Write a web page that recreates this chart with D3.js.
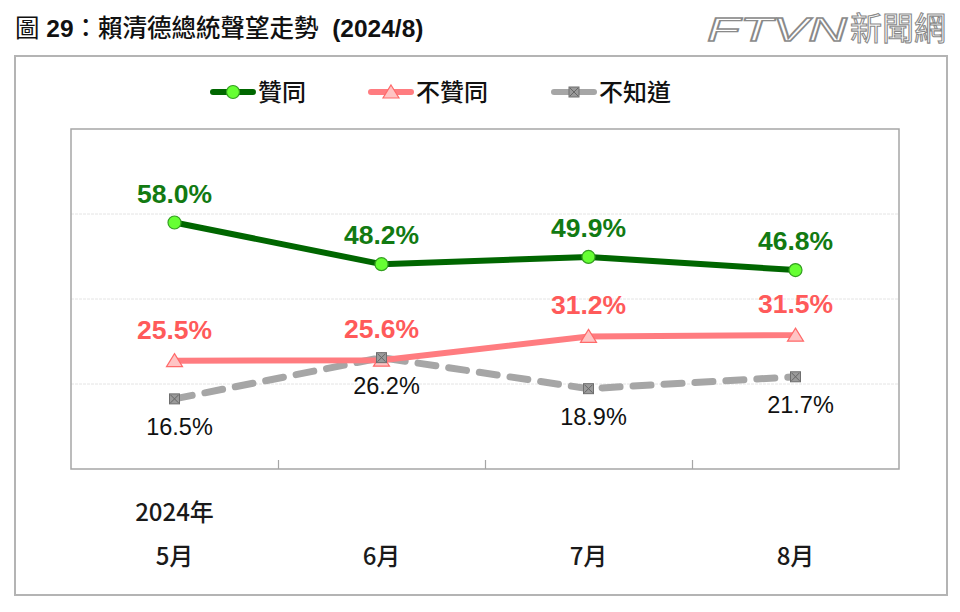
<!DOCTYPE html>
<html><head><meta charset="utf-8">
<script src="https://cdn.jsdelivr.net/npm/d3@7"></script>
<style>body{margin:0;background:#fff}svg{display:block}</style>
</head><body>
<svg id="c" width="960" height="612"></svg>
<script>
const months = ["5月","6月","7月","8月"];
const approve = [58.0, 48.2, 49.9, 46.8];
const disapprove = [25.5, 25.6, 31.2, 31.5];
const unknown = [16.5, 26.2, 18.9, 21.7];
const seriesNames = ["贊同","不贊同","不知道"];
const yearLabel = "2024年";
const gridValues = [20, 40, 60];
const titleParts = [["圖 ", 400], ["29", 700], ["：賴清德總統聲望走勢 ", 500], [" (2024/8)", 700]];

const svg = d3.select("#c");
const L = 71, R = 899, T = 129, B = 469;
const cjk = "'Liberation Sans', Arial, 'Noto Sans CJK TC', sans-serif";

// outer frame
svg.append("rect").attr("x",15).attr("y",56).attr("width",932).attr("height",539)
  .attr("fill","none").attr("stroke","#b4b4b4").attr("stroke-width",2);

// title
const tt = svg.append("text").attr("x",15).attr("y",37).attr("font-size",24.5)
  .attr("font-family",cjk).attr("fill","#111");
titleParts.forEach(p => tt.append("tspan").attr("font-weight",p[1]).attr("xml:space","preserve").text(p[0]));

// logo
const lg = svg.append("g");
lg.append("text").attr("x",707).attr("y",41).attr("font-size",34).attr("font-style","italic")
  .attr("font-family","'Liberation Sans', Arial, sans-serif").attr("font-weight",400)
  .attr("fill","#fff").attr("stroke","#8a8a8a").attr("stroke-width",1.3).attr("textLength",140)
  .attr("lengthAdjust","spacingAndGlyphs").text("FTVN");
lg.append("text").attr("x",850).attr("y",40).attr("font-size",32)
  .attr("font-family","'Noto Sans CJK TC', sans-serif").attr("font-weight",400)
  .attr("fill","#fff").attr("stroke","#8a8a8a").attr("stroke-width",1.1).text("新聞網");

const x = d3.scaleBand().domain(months).range([L, R]);
const y = d3.scaleLinear().domain([0, 80]).range([B, T]);
const cx = m => x(m) + x.bandwidth()/2;

// gridlines
svg.append("g").selectAll("line").data(gridValues).join("line")
  .attr("x1",L).attr("x2",R).attr("y1",d=>y(d)).attr("y2",d=>y(d))
  .attr("stroke","#e4e4e4").attr("stroke-width",1).attr("stroke-dasharray","3,1");

// plot frame
svg.append("rect").attr("x",L).attr("y",T).attr("width",R-L).attr("height",B-T)
  .attr("fill","none").attr("stroke","#a6a6a6").attr("stroke-width",1.5);

// bottom ticks via axis
const ax = svg.append("g").attr("transform",`translate(0,${B})`)
  .call(d3.axisTop(d3.scaleLinear().domain([0,4]).range([L,R])).tickValues([1,2,3]).tickSize(9).tickFormat(""));
ax.select(".domain").remove();
ax.selectAll("line").attr("stroke","#a6a6a6").attr("stroke-width",1.2);

// x labels
svg.append("g").selectAll("text").data(months).join("text")
  .attr("x",d=>cx(d)).attr("y",565).attr("text-anchor","middle")
  .attr("font-size",24).attr("font-weight",500).attr("font-family","'Noto Sans CJK TC', sans-serif")
  .attr("fill","#1a1a1a").text(d=>d);
svg.append("text").attr("x",cx(months[0])).attr("y",521).attr("text-anchor","middle")
  .attr("font-size",24).attr("font-weight",500).attr("font-family","'Noto Sans CJK TC', sans-serif")
  .attr("fill","#1a1a1a").text(yearLabel);

const line = d3.line().x((d,i)=>cx(months[i])).y(d=>y(d));

svg.append("path").datum(unknown).attr("d",line).attr("fill","none")
  .attr("stroke","#a6a6a6").attr("stroke-width",7).attr("stroke-dasharray","18,13")
  .attr("stroke-linecap","round");
svg.append("path").datum(disapprove).attr("d",line).attr("fill","none")
  .attr("stroke","#ff7c80").attr("stroke-width",6).attr("stroke-linejoin","round");
svg.append("path").datum(approve).attr("d",line).attr("fill","none")
  .attr("stroke","#006600").attr("stroke-width",6).attr("stroke-linejoin","round");

function tri(g){ g.append("path").attr("d","M0,-7 L8,6 L-8,6 Z").attr("fill","#ffc4c4").attr("stroke","#ff6a6a").attr("stroke-width",1.2); }
function sq(g){
  g.append("rect").attr("x",-5).attr("y",-5).attr("width",10).attr("height",10).attr("fill","#9a9a9a").attr("stroke","#6e6e6e").attr("stroke-width",1);
  g.append("path").attr("d","M-4,-4L4,4M4,-4L-4,4").attr("stroke","#666").attr("stroke-width",1);
}
function circ(g){ g.append("circle").attr("r",6.5).attr("fill","#66ff33").attr("stroke","#33a020").attr("stroke-width",1.2); }

svg.append("g").selectAll("g").data(disapprove).join("g")
  .attr("transform",(d,i)=>`translate(${cx(months[i])},${y(d)})`).each(function(){tri(d3.select(this));});
svg.append("g").selectAll("g").data(unknown).join("g")
  .attr("transform",(d,i)=>`translate(${cx(months[i])},${y(d)})`).each(function(){sq(d3.select(this));});
svg.append("g").selectAll("g").data(approve).join("g")
  .attr("transform",(d,i)=>`translate(${cx(months[i])},${y(d)})`).each(function(){circ(d3.select(this));});

const lf = "'Liberation Sans', Arial, sans-serif";
svg.append("g").selectAll("text").data(approve).join("text")
  .attr("x",(d,i)=>cx(months[i])).attr("y",d=>y(d)-20).attr("text-anchor","middle")
  .attr("font-size",26.5).attr("font-weight",700).attr("font-family",lf).attr("fill","#127a12")
  .text(d=>d.toFixed(1)+"%");
svg.append("g").selectAll("text").data(disapprove).join("text")
  .attr("x",(d,i)=>cx(months[i])).attr("y",d=>y(d)-22).attr("text-anchor","middle")
  .attr("font-size",26.5).attr("font-weight",700).attr("font-family",lf).attr("fill","#ff5a5a")
  .text(d=>d.toFixed(1)+"%");
svg.append("g").selectAll("text").data(unknown).join("text")
  .attr("x",(d,i)=>cx(months[i])+5).attr("y",d=>y(d)+36).attr("text-anchor","middle")
  .attr("font-size",23.5).attr("font-weight",400).attr("font-family",lf).attr("fill","#111")
  .text(d=>d.toFixed(1)+"%");

// legend
const legY = 92;
const legItems = [
  {x:211, name:seriesNames[0], color:"#006600", mk:circ},
  {x:369, name:seriesNames[1], color:"#ff7c80", mk:tri},
  {x:552, name:seriesNames[2], color:"#a6a6a6", mk:sq}
];
legItems.forEach(it=>{
  const g = svg.append("g").attr("transform",`translate(${it.x},${legY})`);
  g.append("line").attr("x1",2).attr("x2",42).attr("stroke",it.color).attr("stroke-width",6).attr("stroke-linecap","round");
  const m = g.append("g").attr("transform","translate(22,0)"); it.mk(m);
  g.append("text").attr("x",47).attr("y",9).attr("font-size",24).attr("font-weight",500)
    .attr("font-family","'Noto Sans CJK TC', sans-serif").attr("fill","#111").text(it.name);
});
</script>
</body></html>
